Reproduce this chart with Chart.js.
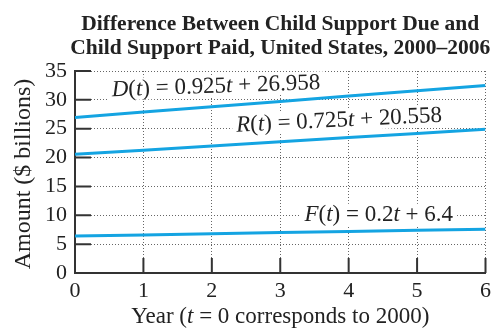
<!DOCTYPE html>
<html>
<head>
<meta charset="utf-8">
<script src="https://cdn.jsdelivr.net/npm/chart.js@4/dist/chart.umd.min.js"></script>
<style>
  html, body { margin: 0; padding: 0; background: #fff; }
  #wrap { width: 496px; height: 330px; }
</style>
</head>
<body>
<div id="wrap"><canvas id="chart"></canvas></div>
<script>
const years = [0, 1, 2, 3, 4, 5, 6];
// D(t) = 0.925t + 26.958
const dueValues = [26.958, 27.883, 28.808, 29.733, 30.658, 31.583, 32.508];
// R(t) = 0.725t + 20.558
const rValues = [20.558, 21.283, 22.008, 22.733, 23.458, 24.183, 24.908];
// F(t) = 0.2t + 6.4
const fValues = [6.4, 6.6, 6.8, 7.0, 7.2, 7.4, 7.6];
const yTicks = [0, 5, 10, 15, 20, 25, 30, 35];
const xTicks = [0, 1, 2, 3, 4, 5, 6];

const titleLines = ['Difference Between Child Support Due and', 'Child Support Paid, United States, 2000\u20132006'];

// text runs: [text, italic?]
const labelD = [['D', 1], ['(', 0], ['t', 1], [') = 0.925', 0], ['t', 1], [' + 26.958', 0]];
const labelR = [['R', 1], ['(', 0], ['t', 1], [') = 0.725', 0], ['t', 1], [' + 20.558', 0]];
const labelF = [['F', 1], ['(', 0], ['t', 1], [') = 0.2', 0], ['t', 1], [' + 6.4', 0]];
const xTitle = [['Year (', 0], ['t', 1], [' = 0 corresponds to 2000)', 0]];

const lineColor = '#14a4e2';
const serif = "'Liberation Serif', 'Times New Roman', serif";

function toPoints(vals) {
  return years.map((x, i) => ({ x: x, y: vals[i] }));
}

function runWidth(ctx, runs, size) {
  let w = 0;
  runs.forEach(r => {
    ctx.font = (r[1] ? 'italic ' : '') + size + 'px ' + serif;
    w += ctx.measureText(r[0]).width;
  });
  return w;
}

function drawRuns(ctx, runs, cx, cy, size, angle, bg) {
  ctx.save();
  ctx.translate(cx, cy);
  ctx.rotate(angle);
  const w = runWidth(ctx, runs, size);
  if (bg) {
    ctx.fillStyle = '#fff';
    ctx.fillRect(-w / 2 - 4, -size * 0.5, w + 8, size * 0.95);
  }
  ctx.fillStyle = '#222';
  ctx.textBaseline = 'middle';
  ctx.textAlign = 'left';
  let x = -w / 2;
  runs.forEach(r => {
    ctx.font = (r[1] ? 'italic ' : '') + size + 'px ' + serif;
    ctx.fillText(r[0], x, 0);
    x += ctx.measureText(r[0]).width;
  });
  ctx.restore();
}

// label anchors in data units, rotation in degrees
const annotations = [
  { runs: labelD, x: 2.06, y: 32.3, deg: -2.0 },
  { runs: labelR, x: 3.86, y: 26.4, deg: -2.8 },
  { runs: labelF, x: 4.44, y: 10.0, deg: 0 }
];

const textPlugin = {
  id: 'texts',
  beforeDatasetsDraw(chart) {
    const ctx = chart.ctx;
    const xs = chart.scales.x, ys = chart.scales.y;
    const a = chart.chartArea;

    // inward tick marks
    ctx.save();
    ctx.strokeStyle = '#333';
    ctx.lineWidth = 2;
    ctx.beginPath();
    xTicks.forEach(t => {
      const px = xs.getPixelForValue(t);
      ctx.moveTo(px, a.bottom);
      ctx.lineTo(px, a.bottom - 15);
    });
    yTicks.forEach(t => {
      const py = ys.getPixelForValue(t);
      ctx.moveTo(a.left, py);
      ctx.lineTo(a.left + 16, py);
    });
    ctx.stroke();
    ctx.restore();

    // equation labels
    annotations.forEach(an => {
      const px = xs.getPixelForValue(an.x);
      const py = ys.getPixelForValue(an.y);
      drawRuns(ctx, an.runs, px, py, 23, an.deg * Math.PI / 180, true);
    });
  },
  afterDraw(chart) {
    const ctx = chart.ctx;
    const a = chart.chartArea;
    const cx = (a.left + a.right) / 2;
    ctx.save();
    ctx.fillStyle = '#222';
    ctx.textAlign = 'center';
    ctx.textBaseline = 'middle';
    ctx.font = 'bold 21.5px ' + serif;
    ctx.fillText(titleLines[0], cx, 24);
    ctx.fillText(titleLines[1], cx, 48);
    ctx.restore();

    drawRuns(ctx, xTitle, cx, 317, 23, 0, false);

    ctx.save();
    ctx.translate(24, 174);
    ctx.rotate(-Math.PI / 2);
    ctx.fillStyle = '#222';
    ctx.textAlign = 'center';
    ctx.textBaseline = 'middle';
    ctx.font = '24px ' + serif;
    ctx.fillText('Amount ($ billions)', 0, 0);
    ctx.restore();
  }
};

function makeSet(label, vals) {
  return {
    label: label,
    data: toPoints(vals),
    borderColor: lineColor,
    borderWidth: 3,
    pointRadius: 0,
    fill: false,
    tension: 0
  };
}

new Chart(document.getElementById('chart'), {
  type: 'line',
  data: {
    datasets: [
      makeSet('D(t)', dueValues),
      makeSet('R(t)', rValues),
      makeSet('F(t)', fValues)
    ]
  },
  options: {
    responsive: true,
    maintainAspectRatio: false,
    animation: false,
    events: [],
    layout: { padding: { top: 71, right: 7, bottom: 0, left: 0 } },
    plugins: {
      legend: { display: false },
      title: { display: false },
      tooltip: { enabled: false }
    },
    scales: {
      x: {
        type: 'linear',
        min: 0,
        max: 6,
        afterBuildTicks(s) { s.ticks = xTicks.map(v => ({ value: v })); },
        afterFit(s) { s.height = 57; },
        grid: { color: '#666', lineWidth: 1, drawTicks: false },
        border: { display: true, color: '#333', width: 2, dash: [1, 2] },
        ticks: {
          color: '#222',
          padding: 5,
          autoSkip: false,
          maxRotation: 0,
          font: { family: serif, size: 22 }
        }
      },
      y: {
        min: 0,
        max: 35,
        afterBuildTicks(s) { s.ticks = yTicks.map(v => ({ value: v })); },
        afterFit(s) { s.width = 75; },
        grid: { color: '#666', lineWidth: 1, drawTicks: false },
        border: { display: true, color: '#333', width: 2, dash: [1, 2] },
        ticks: {
          color: '#222',
          padding: 8,
          autoSkip: false,
          font: { family: serif, size: 22 }
        }
      }
    }
  },
  plugins: [textPlugin]
});
</script>
</body>
</html>
